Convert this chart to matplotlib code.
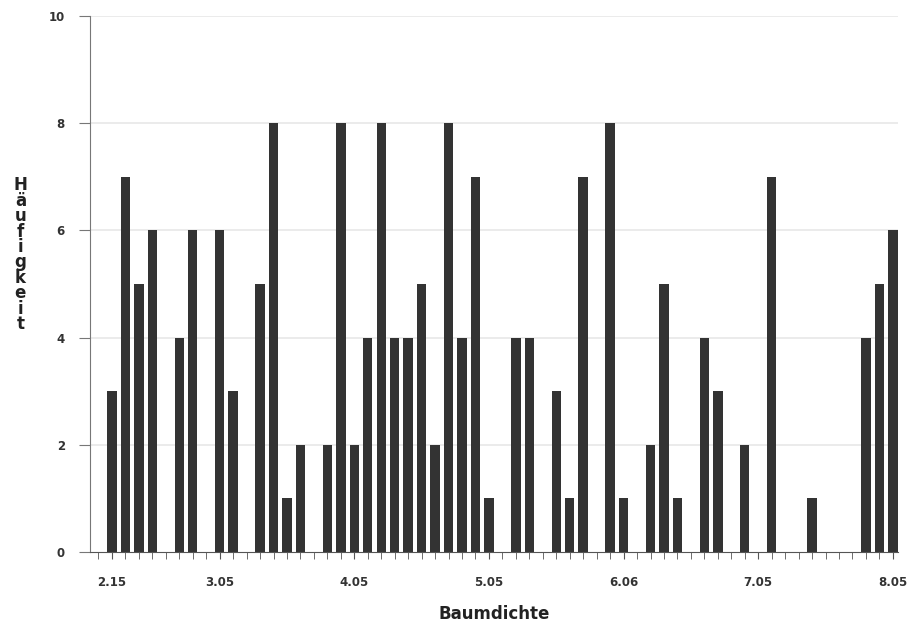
import numpy as np
from matplotlib import pyplot as plt

# Haeufigkeit pro Klasse (59 Klassen, von links nach rechts)
counts = [3, 7, 5, 6, 0, 4, 6, 0, 6, 3,
          0, 5, 8, 1, 2, 0, 2, 8, 2, 4,
          8, 4, 4, 5, 2, 8, 4, 7, 1, 0,
          4, 4, 0, 3, 1, 7, 0, 8, 1, 0,
          2, 5, 1, 0, 4, 3, 0, 2, 0, 7,
          0, 0, 1, 0, 0, 0, 4, 5, 6]
label_pos = [0, 8, 18, 28, 38, 48, 58]
label_txt = ["2.15", "3.05", "4.05", "5.05", "6.06", "7.05", "8.05"]
yticks = [0, 2, 4, 6, 8, 10]

x = np.arange(len(counts))

fig = plt.figure(figsize=(9.24, 6.29), dpi=100)
ax = fig.add_axes([0.0974, 0.1224, 0.874, 0.8522])

# blasse Gitterlinien wie im Scan
for yv in yticks[1:]:
    ax.axhline(yv, color="#e8e8e8", lw=1.2, zorder=0)

ax.bar(x, counts, width=0.7, color="#333333", zorder=2)

ax.set_xlim(-1.63, 58.35)
ax.set_ylim(0, 10)
ax.spines["top"].set_visible(False)
ax.spines["right"].set_visible(False)
ax.spines["left"].set_color("#777777")
ax.spines["bottom"].set_color("#555555")

ax.set_xticks(label_pos)
ax.set_xticklabels(label_txt, fontsize=8.5, fontweight="bold", color="#333333")
ax.set_xticks(np.arange(-1, 59), minor=True)
ax.tick_params(axis="x", which="both", length=5, color="#555555", pad=12)

ax.set_yticks(yticks)
ax.set_yticklabels([str(v) for v in yticks], fontsize=8.5, fontweight="bold", color="#333333")
ax.tick_params(axis="y", length=8, color="#777777", pad=10)

ax.set_xlabel("Baumdichte", fontsize=12, fontweight="bold", color="#222222", labelpad=12)
fig.text(0.022, 0.595, "\n".join("Häufigkeit"), fontsize=12, fontweight="bold",
         color="#222222", ha="center", va="center", linespacing=0.82)

plt.savefig("out.png", dpi=100)
